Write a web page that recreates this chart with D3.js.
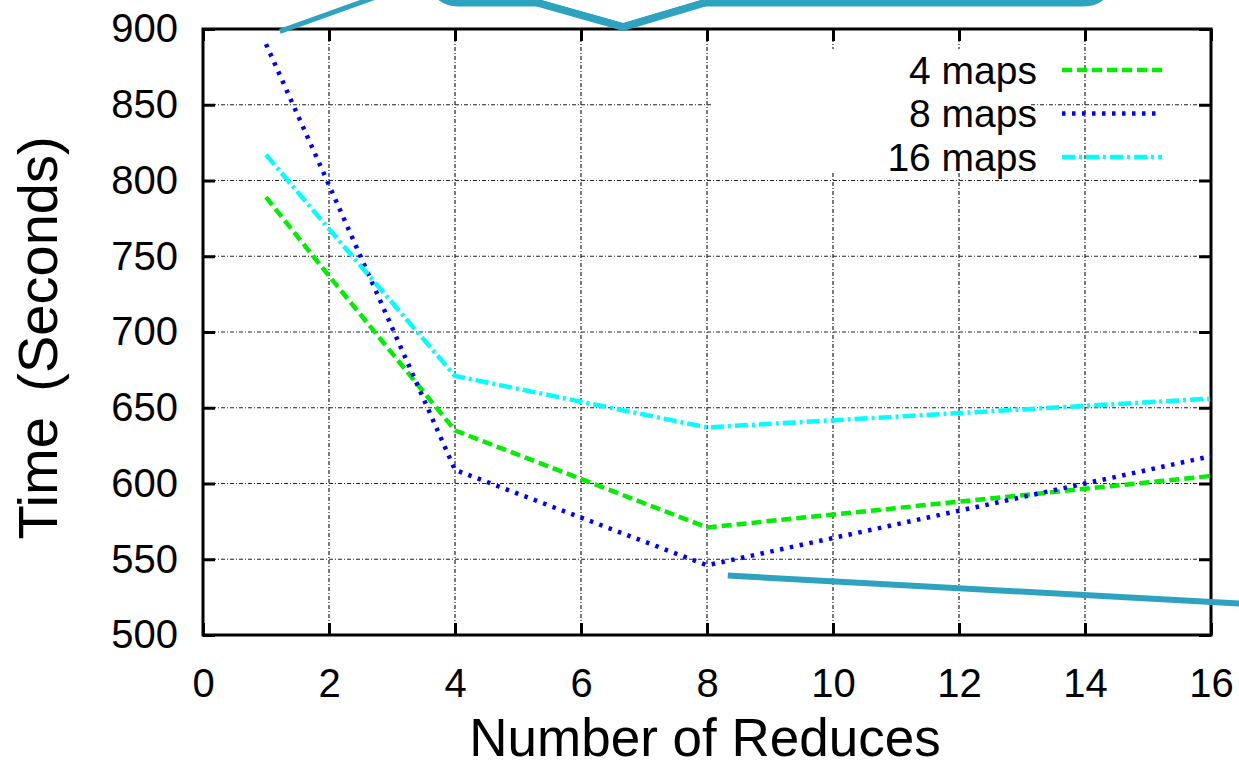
<!DOCTYPE html>
<html>
<head>
<meta charset="utf-8">
<script src="https://cdn.jsdelivr.net/npm/d3@7"></script>
<style>
  body { margin: 0; background: #fff; }
  text { font-family: "Liberation Sans", Arial, sans-serif; fill: #000; }
</style>
</head>
<body>
<div id="chart"></div>
<script>
// number of reduces
var reduces = [1, 2, 4, 8, 16]
// time in seconds, one list per series
var maps4 = [789, 737, 635, 571, 605]
var maps8 = [890, 797, 609, 546, 618]
var maps16 = [817, 768, 671, 637, 656]
var seriesNames = ['4 maps', '8 maps', '16 maps']
var xTicks = [0, 2, 4, 6, 8, 10, 12, 14, 16]
var yTicks = [500, 550, 600, 650, 700, 750, 800, 850, 900]

// teal callout overlay, in data units
var calloutLeader = [[1.22, 898.4], [2.9, 923.5]]
var calloutNotch = [[5.3, 917.5], [6.67, 901.5], [7.97, 917.5]]
var calloutBox = [3.6, 14.43, 917.5, 960]
var pointerLine = [[8.33, 539.2], [16.45, 520.8]]

var W = 1239, H = 767
var margin = {top: 29, right: 28, bottom: 132, left: 203}
var width = W - margin.left - margin.right
var height = H - margin.top - margin.bottom

var svg = d3.select('#chart').append('svg')
  .attr('width', W).attr('height', H)

var g = svg.append('g').attr('transform', 'translate(' + margin.left + ',' + margin.top + ')')

var x = d3.scaleLinear().domain([0, 16]).range([0, width])
var y = d3.scaleLinear().domain([500, 900]).range([height, 0])

// grid
g.append('g').selectAll('line').data(xTicks.slice(1, -1)).enter().append('line')
  .attr('x1', d => x(d)).attr('x2', d => x(d))
  .attr('y1', 0).attr('y2', height)
  .attr('stroke', '#222').attr('stroke-width', 1.2).attr('stroke-dasharray', '4,2,1,2')
g.append('g').selectAll('line').data(yTicks.slice(1, -1)).enter().append('line')
  .attr('x1', 0).attr('x2', width)
  .attr('y1', d => y(d)).attr('y2', d => y(d))
  .attr('stroke', '#222').attr('stroke-width', 1.2).attr('stroke-dasharray', '4,2,1,2')

// axes, gnuplot style ticks pointing inwards on every side
g.append('g').attr('transform', 'translate(0,' + height + ')')
  .call(d3.axisBottom(x).tickValues(xTicks).tickSize(-12).tickPadding(34))
g.append('g')
  .call(d3.axisLeft(y).tickValues(yTicks).tickSize(-12).tickPadding(25))
g.append('g').call(d3.axisTop(x).tickValues(xTicks).tickSize(-12).tickFormat(''))
g.append('g').attr('transform', 'translate(' + width + ',0)')
  .call(d3.axisRight(y).tickValues(yTicks).tickSize(-12).tickFormat(''))

g.selectAll('.domain').remove()
g.selectAll('.tick line').attr('stroke', '#000').attr('stroke-width', 3)
g.selectAll('.tick text').style('font-size', '40px')
  .attr('font-family', '"Liberation Sans", Arial, sans-serif')

g.append('rect').attr('width', width).attr('height', height)
  .attr('fill', 'none').attr('stroke', '#000').attr('stroke-width', 3)

// legend box hides grid behind it
var legend = g.append('g').attr('transform', 'translate(' + (width - 170) + ',0)')
legend.append('rect').attr('x', -330).attr('y', 20).attr('width', 320).attr('height', 122)
  .attr('fill', '#fff')

var series = [
  {name: seriesNames[0], values: maps4, color: '#00ee00', dash: '10,5'},
  {name: seriesNames[1], values: maps8, color: '#0000ff', dash: '3.5,6.5'},
  {name: seriesNames[2], values: maps16, color: '#00ffff', dash: '13,4,3,4'}
]

var line = d3.line().x((d, i) => x(reduces[i])).y(d => y(d))

g.selectAll('.series').data(series).enter().append('path')
  .attr('class', 'series')
  .attr('d', d => line(d.values))
  .attr('fill', 'none')
  .attr('stroke', d => d.color)
  .attr('stroke-width', 4.5)
  .attr('stroke-dasharray', d => d.dash)

var row = legend.selectAll('.row').data(series).enter().append('g')
  .attr('transform', (d, i) => 'translate(0,' + (41 + i * 43.5) + ')')
row.append('text').attr('x', -4).attr('dy', '0.35em')
  .attr('text-anchor', 'end').style('font-size', '39px').text(d => d.name)
row.append('line').attr('x1', 21).attr('x2', 121)
  .attr('stroke', d => d.color).attr('stroke-width', 4.5)
  .attr('stroke-dasharray', d => d.dash)

// axis titles
svg.append('text')
  .attr('x', margin.left + width / 2 - 2).attr('y', 756)
  .attr('text-anchor', 'middle').style('font-size', '53px')
  .text('Number of Reduces')
svg.append('text')
  .attr('transform', 'translate(57,' + (margin.top + height / 2 + 6) + ') rotate(-90)')
  .attr('text-anchor', 'middle').style('font-size', '56px')
  .style('word-spacing', '10px')
  .text('Time (Seconds)')

// teal annotation overlay
var teal = '#2ea3bf'
var pt = d => [margin.left + x(d[0]), margin.top + y(d[1])]
svg.append('path').attr('d', d3.line()(calloutLeader.map(pt)))
  .attr('stroke', teal).attr('stroke-width', 5).attr('fill', 'none')
svg.append('rect')
  .attr('x', margin.left + x(calloutBox[0])).attr('width', x(calloutBox[1]) - x(calloutBox[0]))
  .attr('y', margin.top + y(calloutBox[3])).attr('height', y(calloutBox[2]) - y(calloutBox[3]))
  .attr('rx', 28).attr('fill', '#fff').attr('stroke', teal).attr('stroke-width', 8)
// the notch opens the bottom edge of the box
var notch = calloutNotch.map(pt)
svg.append('path')
  .attr('d', d3.line()([[notch[0][0] + 6, notch[0][1] - 12], notch[0], notch[1], notch[2], [notch[2][0] - 6, notch[2][1] - 12]]) + 'Z')
  .attr('fill', '#fff')
svg.append('path').attr('d', d3.line()(notch))
  .attr('stroke', teal).attr('stroke-width', 8).attr('fill', 'none')
svg.append('path').attr('d', d3.line()(notch.map(p => [p[0], p[1] - 5])))
  .attr('stroke', '#fff').attr('stroke-width', 2).attr('fill', 'none')
svg.append('path').attr('d', d3.line()(pointerLine.map(pt)))
  .attr('stroke', teal).attr('stroke-width', 6).attr('fill', 'none')
</script>
</body>
</html>
